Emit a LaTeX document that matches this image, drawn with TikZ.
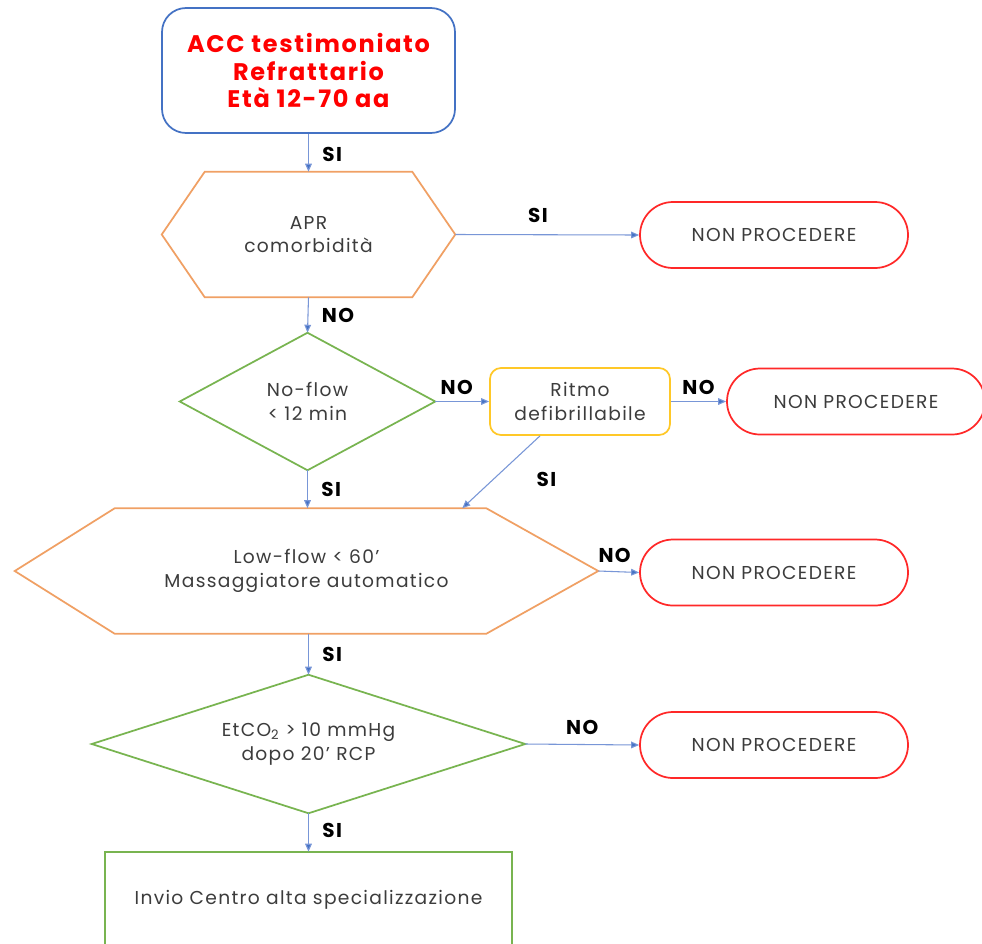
\documentclass[tikz,border=0pt]{standalone}
\usepackage{fontspec}
\setmainfont{Poppins}[LetterSpace=7]
\usetikzlibrary{arrows.meta,calc}
\definecolor{cblue}{RGB}{68,114,196}
\definecolor{cline}{RGB}{120,150,215}
\definecolor{corange}{RGB}{240,160,100}
\definecolor{cgreen}{RGB}{120,180,80}
\definecolor{cyellow}{RGB}{255,200,40}
\definecolor{cred}{RGB}{255,40,40}
\definecolor{ctext}{RGB}{60,60,60}
\begin{document}
\begin{tikzpicture}[x=0.75pt,y=-0.75pt,
  box/.style={inner sep=0pt, align=center, text=ctext, font=\fontsize{14}{17.5}\selectfont},
  shapeline/.style={line width=1.3pt},
  arr/.style={draw=cline, line width=0.8pt, -{Triangle[length=6pt,width=5pt,fill=cblue]}},
  lbl/.style={font=\fontsize{15}{17}\selectfont\bfseries, text=black, inner sep=0pt},
  np/.style={box, draw=cred, shapeline, minimum width=0.75pt*268, minimum height=0.75pt*66, rounded corners=0.75pt*33}
]
\useasboundingbox (0,0) rectangle (982,943);
\fill[white] (0,0) rectangle (982,943);

% start box
\node[box, draw=cblue, shapeline, rounded corners=0.75pt*24, minimum width=0.75pt*293, minimum height=0.75pt*125,
      text=red, font=\fontsize{18}{20.5}\selectfont\bfseries] (start) at (308.5,70.5)
      {ACC testimoniato\\Refrattario\\Età 12-70 aa};

% hexagon 1
\node[box, minimum width=0.75pt*293, minimum height=0.75pt*125] (h1) at (308.5,234.5) {APR\\comorbidità};
\draw[corange, shapeline] (h1.west) -- ($(h1.north west)+(43,0)$) -- ($(h1.north east)+(-43,0)$) -- (h1.east)
  -- ($(h1.south east)+(-43,0)$) -- ($(h1.south west)+(43,0)$) -- cycle;

\node[np] (np1) at (774,235) {NON PROCEDERE};

% diamond 1
\node[box, minimum width=0.75pt*255, minimum height=0.75pt*137] (d1) at (307.5,401.5) {No-flow\\< 12 min};
\draw[cgreen, shapeline] (d1.west) -- (d1.north) -- (d1.east) -- (d1.south) -- cycle;

% yellow box
\node[box, draw=cyellow, shapeline, rounded corners=0.75pt*11, minimum width=0.75pt*180, minimum height=0.75pt*67] (rit) at (580,401.5) {Ritmo\\defibrillabile};

\node[np, minimum width=0.75pt*258] (np2) at (856,401.5) {NON PROCEDERE};

% hexagon 2
\node[box, minimum width=0.75pt*583, minimum height=0.75pt*125] (h2) at (306.5,571) {Low-flow < 60'\\Massaggiatore automatico};
\draw[corange, shapeline] (h2.west) -- ($(h2.north west)+(100,0)$) -- ($(h2.north east)+(-112,0)$) -- (h2.east)
  -- ($(h2.south east)+(-112,0)$) -- ($(h2.south west)+(100,0)$) -- cycle;

\node[np] (np3) at (774,572.5) {NON PROCEDERE};

% diamond 2
\node[box, minimum width=0.75pt*433, minimum height=0.75pt*138] (d2) at (308.5,744) {EtCO\textsubscript{2} > 10 mmHg\\dopo 20' RCP};
\draw[cgreen, shapeline] (d2.west) -- (d2.north) -- (d2.east) -- (d2.south) -- cycle;

\node[np] (np4) at (774,745) {NON PROCEDERE};

% final box
\node[box, minimum width=0.75pt*407, minimum height=0.75pt*96] (fin) at (308.5,900) {Invio Centro alta specializzazione};
\draw[cgreen, shapeline] (fin.south west) -- (fin.north west) -- (fin.north east) -- (fin.south east);

% connectors
\draw[arr] (start.south) -- (h1.north) node[lbl, pos=0.55, right=10pt] {SI};
\draw[arr] (h1.east) -- (np1.west) node[lbl, pos=0.45, above=9pt] {SI};
\draw[arr] (h1.south) -- (d1.north) node[lbl, pos=0.5, right=10pt] {NO};
\draw[arr] (d1.east) -- (rit.west) node[lbl, pos=0.4, above=5pt] {NO};
\draw[arr] (rit.east) -- (np2.west) node[lbl, pos=0.5, above=5pt] {NO};
\draw[arr] ($(rit.south)+(-40,0)$) -- ($(h2.north east)+(-136,0)$) node[lbl, pos=0.6, right=32pt] {SI};
\draw[arr] (d1.south) -- (h2.north -| d1.south) node[lbl, pos=0.5, right=10pt] {SI};
\draw[arr] (h2.east) -- (np3.west) node[lbl, pos=0.4, above=6pt] {NO};
\draw[arr] (h2.south -| d2.north) -- (d2.north) node[lbl, pos=0.5, right=10pt] {SI};
\draw[arr] (d2.east) -- (np4.west) node[lbl, pos=0.5, above=7pt] {NO};
\draw[arr] (d2.south) -- (fin.north) node[lbl, pos=0.45, right=10pt] {SI};
\end{tikzpicture}
\end{document}
